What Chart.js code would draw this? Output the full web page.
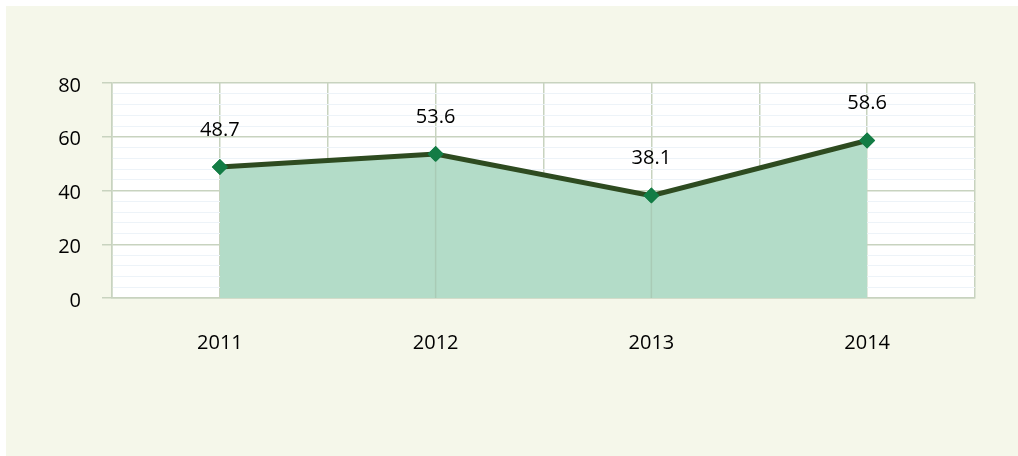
<!DOCTYPE html>
<html>
<head>
<meta charset="utf-8">
<script src="https://cdn.jsdelivr.net/npm/chart.js@4"></script>
<style>
  html, body { margin: 0; padding: 0; background: #ffffff; }
  #wrap { position: absolute; left: 6px; top: 6px; width: 1012px; height: 450px; background: #f5f7ea; }
</style>
</head>
<body>
<div id="wrap"><canvas id="chart" width="1012" height="450"></canvas></div>
<script>
const years = ['2011', '2012', '2013', '2014'];
const values = [48.7, 53.6, 38.1, 58.6];
const yTicks = [0, 20, 40, 60, 80];

const majorGrid = '#c8d3bf';
const minorGrid = '#edf3f8';
const fontFamily = '"Open Sans", sans-serif';

// category gridlines stay visible through the area fill, and value labels above the diamonds
const pointLabels = {
    id: 'pointLabels',
    afterDatasetsDraw(chart) {
        const ctx = chart.ctx;
        const meta = chart.getDatasetMeta(0);
        const bottom = chart.chartArea.bottom;
        ctx.save();
        ctx.strokeStyle = '#a9cbb6';
        ctx.lineWidth = 1.5;
        meta.data.forEach((pt, i) => {
            if (i === 0 || i === meta.data.length - 1) return;
            ctx.beginPath();
            ctx.moveTo(pt.x, pt.y + 4);
            ctx.lineTo(pt.x, bottom);
            ctx.stroke();
        });
        // redraw markers on top
        meta.data.forEach((pt) => pt.draw(ctx, chart.chartArea));
        ctx.font = '20px ' + fontFamily;
        ctx.fillStyle = '#000000';
        ctx.textAlign = 'center';
        ctx.textBaseline = 'middle';
        meta.data.forEach((pt, i) => {
            ctx.fillText(values[i].toFixed(1), pt.x, pt.y - 37);
        });
        ctx.restore();
    }
};

// white plot area
const plotBg = {
    id: 'plotBg',
    beforeDraw(chart) {
        const a = chart.chartArea;
        chart.ctx.save();
        chart.ctx.fillStyle = '#ffffff';
        chart.ctx.fillRect(a.left, a.top, a.right - a.left, a.bottom - a.top);
        chart.ctx.restore();
    }
};

new Chart(document.getElementById('chart'), {
    type: 'line',
    data: {
        datasets: [{
            data: values.map((v, i) => ({ x: i, y: v })),
            borderColor: '#2e4b20',
            borderWidth: 5,
            backgroundColor: '#b3dcc8',
            fill: 'origin',
            pointStyle: 'rectRot',
            pointRadius: 8,
            pointBackgroundColor: '#137c45',
            pointBorderColor: '#137c45',
            pointBorderWidth: 0,
            tension: 0
        }]
    },
    options: {
        responsive: false,
        animation: false,
        layout: { padding: { top: 77, right: 43, left: 0, bottom: 0 } },
        plugins: { legend: { display: false }, tooltip: { enabled: false } },
        scales: {
            x: {
                type: 'linear',
                min: -0.5,
                max: 3.5,
                afterBuildTicks(axis) {
                    const t = [];
                    for (let v = -0.5; v <= 3.5; v += 0.5) t.push({ value: v });
                    axis.ticks = t;
                },
                afterFit(axis) { axis.height = 158; },
                ticks: {
                    autoSkip: false,
                    maxRotation: 0,
                    padding: 33,
                    color: '#000000',
                    font: { family: fontFamily, size: 20 },
                    callback: (v) => Number.isInteger(v) ? years[v] : ''
                },
                grid: { color: majorGrid, lineWidth: 1.5, drawTicks: false },
                border: { color: majorGrid, width: 1.5 }
            },
            y: {
                min: 0,
                max: 80,
                afterBuildTicks(axis) {
                    const t = [];
                    for (let v = 0; v <= 80; v += 4) t.push({ value: v });
                    axis.ticks = t;
                },
                afterFit(axis) { axis.width = 106; },
                ticks: {
                    autoSkip: false,
                    padding: 21,
                    labelOffset: 3,
                    color: '#000000',
                    font: { family: fontFamily, size: 20 },
                    callback: (v) => yTicks.includes(v) ? String(v) : ''
                },
                grid: {
                    color: (c) => c.tick && c.tick.value % 20 === 0 ? majorGrid : minorGrid,
                    tickColor: (c) => c.tick && c.tick.value % 20 === 0 ? majorGrid : 'rgba(0,0,0,0)',
                    lineWidth: (c) => c.tick && c.tick.value % 20 === 0 ? 1.5 : 1,
                    tickLength: 10
                },
                border: { color: majorGrid, width: 1.5 }
            }
        }
    },
    plugins: [plotBg, pointLabels]
});
</script>
</body>
</html>
